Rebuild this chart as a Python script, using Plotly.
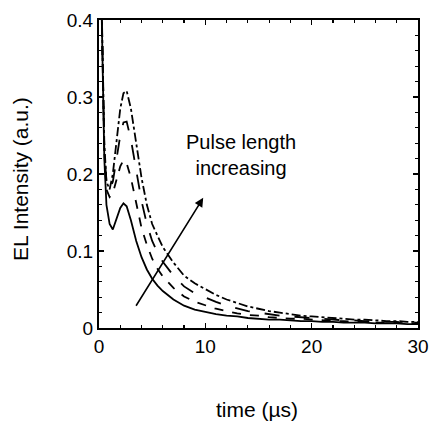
import plotly.graph_objects as go

# time (µs)
t = [0, 0.3, 0.5, 0.7, 1.0, 1.3, 1.6, 2.0, 2.3, 2.6, 3.0, 3.5, 4.0, 4.5, 5.0, 5.5, 6.0,
     7.0, 8.0, 9.0, 10, 11, 12, 13, 14, 15, 16, 17, 18, 19, 20, 21, 22, 23, 24, 25, 26, 27, 28, 29, 30]

# EL intensity (a.u.) for increasing pulse length
s1 = [0.60, 0.40, 0.22, 0.160, 0.135, 0.128, 0.140, 0.156, 0.162, 0.158, 0.140, 0.113, 0.092, 0.076, 0.064, 0.055, 0.048,
      0.037, 0.029, 0.024, 0.021, 0.018, 0.016, 0.015, 0.013, 0.012, 0.011, 0.011, 0.010, 0.009, 0.009, 0.008, 0.008, 0.007, 0.007, 0.007, 0.006, 0.006, 0.006, 0.005, 0.005]
s2 = [0.60, 0.40, 0.23, 0.180, 0.170, 0.175, 0.190, 0.210, 0.218, 0.214, 0.195, 0.162, 0.130, 0.108, 0.090, 0.077, 0.067,
      0.052, 0.041, 0.034, 0.029, 0.025, 0.022, 0.019, 0.017, 0.016, 0.014, 0.013, 0.012, 0.012, 0.011, 0.010, 0.009, 0.009, 0.008, 0.008, 0.007, 0.007, 0.007, 0.006, 0.006]
s3 = [0.60, 0.40, 0.23, 0.190, 0.180, 0.190, 0.215, 0.250, 0.267, 0.268, 0.245, 0.203, 0.165, 0.135, 0.113, 0.098, 0.086,
      0.068, 0.054, 0.045, 0.039, 0.034, 0.029, 0.025, 0.022, 0.020, 0.018, 0.016, 0.015, 0.014, 0.013, 0.012, 0.011, 0.010, 0.010, 0.009, 0.009, 0.008, 0.008, 0.007, 0.007]
s4 = [0.60, 0.40, 0.24, 0.190, 0.180, 0.200, 0.240, 0.285, 0.305, 0.308, 0.285, 0.240, 0.195, 0.160, 0.135, 0.120, 0.105,
      0.085, 0.068, 0.058, 0.050, 0.043, 0.037, 0.032, 0.028, 0.025, 0.022, 0.020, 0.018, 0.016, 0.015, 0.014, 0.013, 0.012, 0.011, 0.011, 0.010, 0.009, 0.009, 0.008, 0.008]

series = [s1, s2, s3, s4]
dashes = ["solid", "dash", "longdash", "dashdot"]

x_ticks = [0, 10, 20, 30]
y_ticks = [0, 0.1, 0.2, 0.3, 0.4]

FONT = "Liberation Sans, Arial, sans-serif"

fig = go.Figure()
for s, d in zip(series, dashes):
    fig.add_trace(go.Scatter(x=t, y=s, mode="lines",
                             line=dict(color="black", width=1.8, dash=d),
                             showlegend=False, cliponaxis=True, hoverinfo="skip"))

axis_common = dict(
    showgrid=False, zeroline=False, showline=True, linecolor="black", linewidth=2,
    mirror="allticks", ticks="inside", ticklen=5, tickwidth=1.5, tickcolor="black",
    tickfont=dict(family=FONT, size=19, color="black"), automargin=False,
)

fig.update_xaxes(range=[0, 30], tickvals=x_ticks, ticktext=[str(v) for v in x_ticks],
                 minor=dict(dtick=2, ticks="inside", ticklen=3, tickcolor="black", tickwidth=1.2),
                 **axis_common)
fig.update_yaxes(range=[0, 0.4], tickvals=y_ticks, ticktext=["0", "0.1", "0.2", "0.3", "0.4"],
                 minor=dict(dtick=0.02, ticks="inside", ticklen=3, tickcolor="black", tickwidth=1.2),
                 **axis_common)

fig.add_annotation(x=9.8, y=0.169, ax=3.4, ay=0.027, xref="x", yref="y", axref="x", ayref="y",
                   text="", showarrow=True, arrowhead=2, arrowsize=1.1, arrowwidth=1.6, arrowcolor="black")
fig.add_annotation(x=13.4, y=0.225, xref="x", yref="y", text="Pulse length<br>increasing",
                   showarrow=False, font=dict(family=FONT, size=20, color="black"), align="center")
fig.add_annotation(x=0.494, y=-0.266, xref="paper", yref="paper", text="time (µs)",
                   xanchor="center", yanchor="middle",
                   showarrow=False, font=dict(family=FONT, size=21, color="black"))
fig.add_annotation(x=-0.2445, y=0.484, xref="paper", yref="paper", text="EL Intensity (a.u.)",
                   xanchor="center", yanchor="middle",
                   textangle=-90, showarrow=False, font=dict(family=FONT, size=21, color="black"))

fig.update_layout(width=430, height=422, margin=dict(l=99, r=12, t=20, b=94),
                  plot_bgcolor="white", paper_bgcolor="white", hovermode=False)

fig.write_html("out.html", config={"displayModeBar": False, "responsive": False, "staticPlot": True})

# remove default page margin so the figure sits at the window origin
with open("out.html", "r", encoding="utf-8") as f:
    html = f.read()
html = html.replace("<head>", "<head><style>html,body{margin:0;padding:0;overflow:hidden;}</style>", 1)
with open("out.html", "w", encoding="utf-8") as f:
    f.write(html)
